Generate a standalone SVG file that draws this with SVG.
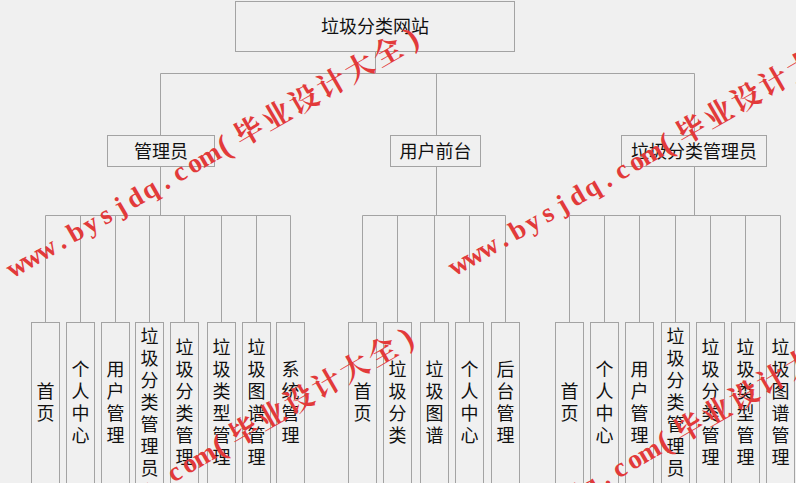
<svg xmlns="http://www.w3.org/2000/svg" xmlns:xlink="http://www.w3.org/1999/xlink" width="796" height="483" viewBox="0 0 796 483">
<style>
.box{fill:#f0f0f0;stroke:#a3a3a3;stroke-width:1}
.ln{stroke:#a3a3a3;stroke-width:1;fill:none}
.t{font-family:"Noto Sans CJK SC","Microsoft YaHei",sans-serif;font-size:18px;fill:#111;text-anchor:middle}
.wl{font-family:"Liberation Serif","Times New Roman",serif;font-size:27px;font-weight:bold;fill:#e23a3a;text-anchor:middle}
.wp{font-family:"Liberation Serif","Times New Roman",serif;font-size:31px;font-weight:bold;fill:#e23a3a;text-anchor:middle}
.wc{font-family:"Noto Serif CJK SC","Noto Sans CJK SC",serif;font-size:29px;font-weight:bold;fill:#e23a3a;text-anchor:middle}
</style>
<defs>
<g id="wm" transform="translate(20.75,273.8) rotate(-30)">
<text class="wl" x="0 17.1 34.2 51.3 68.4 85.5 102.6 119.7 136.8 153.9 171 188.1 205.2 222.3" y="0">www.bysjdq.com</text>
<text class="wp" x="240 456.5" y="1">()</text>
<text class="wc" x="268.5 300.5 332.5 364.5 396.5 428.5" y="1">毕业设计大全</text>
</g>
</defs>
<rect x="0" y="0" width="796" height="483" fill="#f0f0f0"/>

<g id="connectors">
<path class="ln" d="M375.5 51.5V73.5M160.5 73.5H694.5M160.5 73.5V135.5M436.5 73.5V135.5M694.5 73.5V135.5"/>
<path class="ln" d="M160.5 166.5V215.5M45.5 215.5H290.5M45.5 215.5V322.5M80.5 215.5V322.5M115.5 215.5V322.5M149.5 215.5V322.5M184.5 215.5V322.5M221.5 215.5V322.5M256.5 215.5V322.5M290.5 215.5V322.5"/>
<path class="ln" d="M436.5 166.5V215.5M362.5 215.5H505.5M362.5 215.5V322.5M397.5 215.5V322.5M434.5 215.5V322.5M469.5 215.5V322.5M505.5 215.5V322.5"/>
<path class="ln" d="M694.5 166.5V215.5M569.5 215.5H780.5M569.5 215.5V322.5M604.5 215.5V322.5M639.5 215.5V322.5M675.5 215.5V322.5M710.5 215.5V322.5M745.5 215.5V322.5M780.5 215.5V322.5"/>
</g>

<g id="root"><rect class="box" x="235.5" y="1.5" width="279" height="50"/><text class="t" x="375" y="33">垃圾分类网站</text></g>

<g id="admin"><rect class="box" x="107.5" y="135.5" width="107" height="31"/><text class="t" x="161" y="157.5">管理员</text></g>
<g id="front"><rect class="box" x="390.5" y="135.5" width="90" height="31"/><text class="t" x="435.5" y="157.5">用户前台</text></g>
<g id="gadmin"><rect class="box" x="621.5" y="135.5" width="145" height="31"/><text class="t" x="694" y="157.5">垃圾分类管理员</text></g>

<g id="a1"><rect class="box" x="31.5" y="322.5" width="28" height="170"/><text class="t" x="45.5 45.5" y="397.5 419.5">首页</text></g>
<g id="a2"><rect class="box" x="66.5" y="322.5" width="28" height="170"/><text class="t" x="80.5 80.5 80.5 80.5" y="375.5 397.5 419.5 441.5">个人中心</text></g>
<g id="a3"><rect class="box" x="101.5" y="322.5" width="28" height="170"/><text class="t" x="115.5 115.5 115.5 115.5" y="375.5 397.5 419.5 441.5">用户管理</text></g>
<g id="a4"><rect class="box" x="135.5" y="322.5" width="28" height="170"/><text class="t" x="149.5 149.5 149.5 149.5 149.5 149.5 149.5" y="342.5 364.5 386.5 408.5 430.5 452.5 474.5">垃圾分类管理员</text></g>
<g id="a5"><rect class="box" x="170.5" y="322.5" width="28" height="170"/><text class="t" x="184.5 184.5 184.5 184.5 184.5 184.5" y="353.5 375.5 397.5 419.5 441.5 463.5">垃圾分类管理</text></g>
<g id="a6"><rect class="box" x="207.5" y="322.5" width="28" height="170"/><text class="t" x="221.5 221.5 221.5 221.5 221.5 221.5" y="353.5 375.5 397.5 419.5 441.5 463.5">垃圾类型管理</text></g>
<g id="a7"><rect class="box" x="242.5" y="322.5" width="28" height="170"/><text class="t" x="256.5 256.5 256.5 256.5 256.5 256.5" y="353.5 375.5 397.5 419.5 441.5 463.5">垃圾图谱管理</text></g>
<g id="a8"><rect class="box" x="276.5" y="322.5" width="28" height="170"/><text class="t" x="290.5 290.5 290.5 290.5" y="375.5 397.5 419.5 441.5">系统管理</text></g>

<g id="b1"><rect class="box" x="348.5" y="322.5" width="28" height="170"/><text class="t" x="362.5 362.5" y="397.5 419.5">首页</text></g>
<g id="b2"><rect class="box" x="383.5" y="322.5" width="28" height="170"/><text class="t" x="397.5 397.5 397.5 397.5" y="375.5 397.5 419.5 441.5">垃圾分类</text></g>
<g id="b3"><rect class="box" x="420.5" y="322.5" width="28" height="170"/><text class="t" x="434.5 434.5 434.5 434.5" y="375.5 397.5 419.5 441.5">垃圾图谱</text></g>
<g id="b4"><rect class="box" x="455.5" y="322.5" width="28" height="170"/><text class="t" x="469.5 469.5 469.5 469.5" y="375.5 397.5 419.5 441.5">个人中心</text></g>
<g id="b5"><rect class="box" x="491.5" y="322.5" width="28" height="170"/><text class="t" x="505.5 505.5 505.5 505.5" y="375.5 397.5 419.5 441.5">后台管理</text></g>

<g id="c1"><rect class="box" x="555.5" y="322.5" width="28" height="170"/><text class="t" x="569.5 569.5" y="397.5 419.5">首页</text></g>
<g id="c2"><rect class="box" x="590.5" y="322.5" width="28" height="170"/><text class="t" x="604.5 604.5 604.5 604.5" y="375.5 397.5 419.5 441.5">个人中心</text></g>
<g id="c3"><rect class="box" x="625.5" y="322.5" width="28" height="170"/><text class="t" x="639.5 639.5 639.5 639.5" y="375.5 397.5 419.5 441.5">用户管理</text></g>
<g id="c4"><rect class="box" x="661.5" y="322.5" width="28" height="170"/><text class="t" x="675.5 675.5 675.5 675.5 675.5 675.5 675.5" y="342.5 364.5 386.5 408.5 430.5 452.5 474.5">垃圾分类管理员</text></g>
<g id="c5"><rect class="box" x="696.5" y="322.5" width="28" height="170"/><text class="t" x="710.5 710.5 710.5 710.5 710.5 710.5" y="353.5 375.5 397.5 419.5 441.5 463.5">垃圾分类管理</text></g>
<g id="c6"><rect class="box" x="731.5" y="322.5" width="28" height="170"/><text class="t" x="745.5 745.5 745.5 745.5 745.5 745.5" y="353.5 375.5 397.5 419.5 441.5 463.5">垃圾类型管理</text></g>
<g id="c7"><rect class="box" x="766.5" y="322.5" width="28" height="170"/><text class="t" x="780.5 780.5 780.5 780.5 780.5 780.5" y="353.5 375.5 397.5 419.5 441.5 463.5">垃圾图谱管理</text></g>

<g id="watermark">
<use xlink:href="#wm"/>
<use xlink:href="#wm" transform="translate(442,-2)"/>
<use xlink:href="#wm" transform="translate(-5,300)"/>
<use xlink:href="#wm" transform="translate(440,296)"/>
</g>
</svg>
